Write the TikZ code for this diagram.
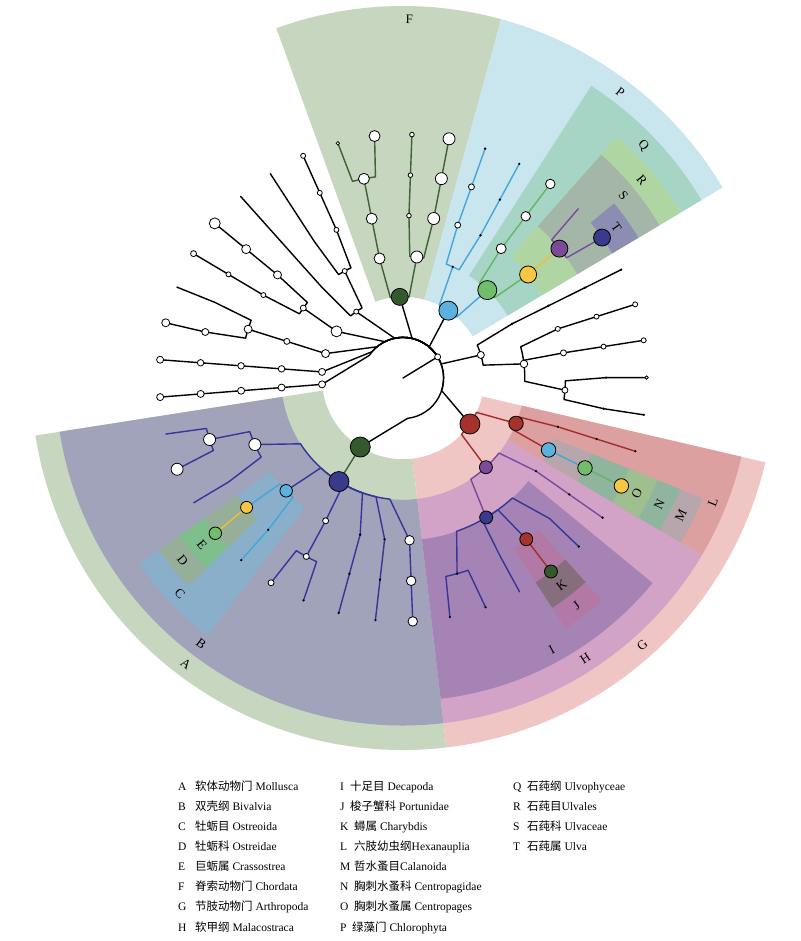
\documentclass[tikz,border=0pt]{standalone}
\usepackage{fontspec}
\setmainfont{Liberation Serif}
\newfontfamily\cjk{Noto Sans CJK SC}
\pgfdeclarelayer{wedges}
\pgfdeclarelayer{edges}
\pgfsetlayers{wedges,edges,main}
% node colours
\definecolor{cDG}{HTML}{33592C}
\definecolor{cNV}{HTML}{3A3A8C}
\definecolor{cLB}{HTML}{5BB2DF}
\definecolor{cYL}{HTML}{F6C644}
\definecolor{cGN}{HTML}{71BD6C}
\definecolor{cRD}{HTML}{A5332C}
\definecolor{cPU}{HTML}{7A4B97}
% line colours
\definecolor{lDG}{HTML}{3D6234}
\definecolor{lNV}{HTML}{35359A}
\definecolor{lLB}{HTML}{45A6DA}
\definecolor{lGN}{HTML}{66B55F}
\definecolor{lYL}{HTML}{F2BE35}
\definecolor{lRD}{HTML}{A32E28}
\definecolor{lPU}{HTML}{7B4A9D}
% wedge colours
\definecolor{wA}{HTML}{C6D6BF}
\definecolor{wB}{HTML}{A0A3BA}
\definecolor{wC}{HTML}{8AAFCB}
\definecolor{wD}{HTML}{97AE99}
\definecolor{wE}{HTML}{7FBE8D}
\definecolor{wF}{HTML}{C6D6BF}
\definecolor{wG}{HTML}{F0C6C4}
\definecolor{wH}{HTML}{D3A2C7}
\definecolor{wI}{HTML}{A584B5}
\definecolor{wJ}{HTML}{B279A6}
\definecolor{wK}{HTML}{876E7D}
\definecolor{wL}{HTML}{DBA09F}
\definecolor{wM}{HTML}{B7A6AB}
\definecolor{wN}{HTML}{90B59F}
\definecolor{wO}{HTML}{A0BF8E}
\definecolor{wP}{HTML}{C9E5EE}
\definecolor{wQ}{HTML}{A6D5C5}
\definecolor{wR}{HTML}{AED5A2}
\definecolor{wS}{HTML}{A4B6A8}
\definecolor{wT}{HTML}{8B8EB2}
\tikzset{
  tnd/.style={circle, draw=black, line width=0.8pt, inner sep=0pt, minimum size=#1},
  wn/.style={tnd=#1, fill=white},
  td/.style={circle, fill=black, inner sep=0pt, minimum size=2.6pt},
  edge/.style={line width=1.4pt, line cap=round, line join=round},
  lab/.style={font=\fontsize{13}{13}\selectfont, inner sep=0pt},
  leg/.style={font=\fontsize{11.5}{13}\selectfont, inner sep=0pt, anchor=base west},
}
\newcommand{\tnode}[4]{\node[#1] (#2) at (#3:#4pt) {};}
\newcommand{\tcoord}[3]{\coordinate (#1) at (#2:#3pt);}
\newcommand{\tbr}[6]{\pgfmathsetmacro{\tbang}{#3+0.75*((#5)-(#3))}\draw[edge,#1] (#2.center) arc[start angle=#3, end angle=\tbang, radius=#4pt] -- (#6.center);}
\newcommand{\tln}[3]{\draw[edge,#1] (#2.center) -- (#3.center);}
\newcommand{\twedge}[5]{\fill[#1] (#2:#4pt) arc[start angle=#2, end angle=#3, radius=#4pt] -- (#3:#5pt) arc[start angle=#3, end angle=#2, radius=#5pt] -- cycle;}
\newcommand{\tlab}[5]{\node[lab, rotate=#4] (#1) at (#2:#3pt) {#5};}
\newcommand{\tleg}[6]{\node[leg] (g#1) at (#2,#3) {#4}; \node[leg] (g#1n) at (#5,#3) {#6};}
\begin{document}
\begin{tikzpicture}[x=1pt,y=1pt]
\useasboundingbox (-403,-563) rectangle (397,378);
\begin{pgfonlayer}{wedges}
\fill[white] (-403,-563) rectangle (397,378);
\twedge{wA}{188.9}{276.7}{81.2}{372}
\twedge{wF}{74.7}{109.9}{81.2}{372}
\twedge{wG}{276.7}{346.9}{81.2}{372}
\twedge{wP}{30.8}{74.7}{81.2}{372}
\twedge{wB}{188.9}{276.7}{121.8}{347.5}
\twedge{wH}{276.7}{329.35}{121.8}{347.5}
\twedge{wL}{329.35}{346.9}{121.8}{347.5}
\twedge{wQ}{30.8}{57.2}{121.8}{347.5}
\twedge{wC}{215.2}{232.8}{162.4}{323}
\twedge{wI}{276.7}{320.6}{162.4}{323}
\twedge{wM}{329.35}{338.1}{162.4}{323}
\twedge{wR}{30.8}{48.4}{162.4}{323}
\twedge{wD}{215.2}{224.0}{203}{298.5}
\twedge{wJ}{303.0}{311.8}{203}{298.5}
\twedge{wN}{329.35}{338.1}{203}{298.5}
\twedge{wS}{30.8}{48.4}{203}{298.5}
\twedge{wE}{215.2}{224.0}{243.6}{274}
\twedge{wK}{303.0}{311.8}{243.6}{274}
\twedge{wO}{329.35}{338.1}{243.6}{274}
\twedge{wT}{30.8}{39.6}{243.6}{274}
\end{pgfonlayer}
% ---------- nodes ----------
\coordinate (root) at (0,0);
\tnode{wn=6pt}{k0}{31.4}{40.6}
% phyla
\tnode{tnd=20pt,fill=cDG}{A}{238.25}{81.2}
\tnode{tnd=20pt,fill=cRD}{G}{325.5}{81.2}
\tnode{wn=7pt}{pR1}{16.5}{81.2}
\tnode{tnd=19pt,fill=cLB}{P}{56.05}{81.2}
\tnode{tnd=17pt,fill=cDG}{F}{92.3}{81.2}
\tnode{wn=5pt}{pL1}{125.2}{81.2}
\tnode{wn=11pt}{pL2}{144.95}{81.2}
\tnode{wn=8pt}{pL3}{162.5}{81.2}
\tnode{wn=7pt}{pL4}{175.7}{81.2}
\tnode{wn=7pt}{pL5}{184.5}{81.2}
% left black clades
\tnode{wn=5pt}{cL1}{118.6}{121.8}
\tcoord{hL1c}{131.8}{121.8}
\tnode{wn=5pt}{oL1}{114.2}{162.4}
\tcoord{hL1o}{123.0}{162.4}
\tnode{wn=5pt}{fL1}{114.2}{203}
\tnode{wn=5pt}{lL1}{114.2}{243.6}
\tcoord{eL1}{123.0}{243.6}
\tcoord{eL2}{131.8}{243.6}
\tnode{wn=6pt}{cL2}{144.95}{121.8}
\tnode{wn=8pt}{oL2a}{140.6}{162.4}
\tnode{wn=9pt}{fL2a}{140.6}{203}
\tnode{wn=11pt}{lL2a}{140.6}{243.6}
\tnode{wn=5pt}{oL2b}{149.3}{162.4}
\tnode{wn=5pt}{fL2b}{149.3}{203}
\tnode{wn=6pt}{lL2b}{149.3}{243.6}
\tnode{wn=6pt}{cL3}{162.5}{121.8}
\tnode{wn=8pt}{oL3}{162.5}{162.4}
\tcoord{hL3f}{158.1}{203}
\tcoord{eL3}{158.1}{243.6}
\tnode{wn=7pt}{fL3}{166.9}{203}
\tnode{wn=8pt}{lL3}{166.9}{243.6}
\tnode{wn=6.5pt}{cL4}{175.7}{121.8}
\tnode{wn=6.5pt}{oL4}{175.7}{162.4}
\tnode{wn=6.5pt}{fL4}{175.7}{203}
\tnode{wn=7pt}{lL4}{175.7}{243.6}
\tnode{wn=7pt}{cL5}{184.5}{121.8}
\tnode{wn=7pt}{oL5}{184.5}{162.4}
\tnode{wn=7pt}{fL5}{184.5}{203}
\tnode{wn=7pt}{lL5}{184.5}{243.6}
% F
\tnode{wn=11pt}{cF1}{101.1}{121.8}
\tnode{wn=11pt}{oF1}{101.1}{162.4}
\tnode{wn=11pt}{fF1}{101.1}{203}
\tnode{wn=3.5pt}{lF1}{105.5}{243.6}
\tnode{wn=11pt}{lF2}{96.7}{243.6}
\tnode{wn=12pt}{cF2}{83.5}{121.8}
\tnode{wn=4.6pt}{oF2a}{87.9}{162.4}
\tnode{wn=4.6pt}{fF2a}{87.9}{203}
\tnode{wn=4.6pt}{lF3}{87.9}{243.6}
\tnode{wn=12pt}{oF2b}{79.1}{162.4}
\tnode{wn=12pt}{fF2b}{79.1}{203}
\tnode{wn=12pt}{lF4}{79.1}{243.6}
% P
\tnode{td}{cP1}{65.9}{121.8}
\tnode{tnd=19pt,fill=cGN}{Q}{46.2}{121.8}
\tnode{wn=6pt}{oP1a}{70.3}{162.4}
\tnode{wn=6pt}{fP1a}{70.3}{203}
\tnode{td}{lP1a}{70.3}{243.6}
\tnode{td}{oP1b}{61.5}{162.4}
\tnode{td}{fP1b}{61.5}{203}
\tnode{td}{lP1b}{61.5}{243.6}
\tnode{wn=10pt}{oP2}{52.8}{162.4}
\tnode{wn=9.5pt}{fP2}{52.8}{203}
\tnode{wn=9.5pt}{lP2}{52.8}{243.6}
\tnode{tnd=17pt,fill=cYL}{R}{39.6}{162.4}
\tnode{tnd=17pt,fill=cPU}{S}{39.6}{203}
\tcoord{eP3}{44.0}{243.6}
\tnode{tnd=17pt,fill=cNV}{T}{35.2}{243.6}
% right black
\tnode{td}{cR1}{26.4}{121.8}
\tnode{td}{oR1}{26.4}{162.4}
\tnode{td}{fR1}{26.4}{203}
\tnode{td}{lR1}{26.4}{243.6}
\tnode{wn=7.5pt}{cR2}{6.65}{121.8}
\tnode{wn=5pt}{oR2a}{17.6}{162.4}
\tnode{wn=5pt}{fR2a}{17.6}{203}
\tnode{wn=5pt}{lR2a}{17.6}{243.6}
\tnode{wn=6pt}{oR2b}{8.9}{162.4}
\tnode{wn=5pt}{fR2b}{8.9}{203}
\tnode{wn=5pt}{lR2b}{8.9}{243.6}
\tnode{wn=6pt}{oR3}{-4.3}{162.4}
\tnode{td}{fR3a}{0.1}{203}
\tnode{wn=3.5pt}{lR3a}{0.1}{243.6}
\tnode{td}{fR3b}{-8.7}{203}
\tnode{td}{lR3b}{-8.7}{243.6}
% A
\tnode{tnd=20pt,fill=cNV}{B}{238.25}{121.8}
\tnode{wn=12pt}{oA1}{204.2}{162.4}
\tnode{wn=12pt}{fA1}{197.65}{203}
\tcoord{eA1}{193.3}{243.6}
\tnode{wn=12pt}{lA2}{202.0}{243.6}
\tcoord{hA1}{210.8}{203}
\tcoord{eA3}{210.8}{243.6}
\tnode{tnd=12.5pt,fill=cLB}{C}{224.0}{162.4}
\tnode{tnd=12pt,fill=cYL}{D}{219.6}{203}
\tnode{tnd=12.5pt,fill=cGN}{E}{219.6}{243.6}
\tnode{td}{fC2}{228.4}{203}
\tnode{td}{lC2}{228.4}{243.6}
\tnode{wn=6pt}{oA3}{241.55}{162.4}
\tnode{wn=6pt}{fA3}{241.55}{203}
\tnode{wn=6pt}{lA6}{237.2}{243.6}
\tnode{td}{eA7}{245.9}{243.6}
\tnode{td}{oA4}{254.7}{162.4}
\tnode{td}{fA4}{254.7}{203}
\tnode{td}{lA8}{254.7}{243.6}
\tnode{td}{oA5}{263.5}{162.4}
\tnode{td}{fA5}{263.5}{203}
\tnode{td}{lA9}{263.5}{243.6}
\tnode{wn=9.5pt}{oA6}{272.3}{162.4}
\tnode{wn=9.5pt}{fA6}{272.3}{203}
\tnode{wn=9.5pt}{lA10}{272.3}{243.6}
% G
\tnode{tnd=13pt,fill=cPU}{H}{312.9}{121.8}
\tnode{tnd=14.5pt,fill=cRD}{L}{338.1}{121.8}
\tnode{tnd=13pt,fill=cNV}{I}{300.8}{162.4}
\tnode{td}{oH2}{325.0}{162.4}
\tnode{td}{fH2}{325.0}{203}
\tnode{td}{lH2}{325.0}{243.6}
\tnode{td}{fG1}{285.45}{203}
\tnode{td}{lG1}{281.1}{243.6}
\tnode{td}{lG2}{289.8}{243.6}
\tcoord{hI2}{298.6}{203}
\tcoord{eG3}{298.6}{243.6}
\tnode{tnd=13pt,fill=cRD}{J}{307.4}{203}
\tnode{tnd=13pt,fill=cDG}{K}{307.4}{243.6}
\tcoord{hI4}{316.2}{203}
\tnode{td}{lG5}{316.2}{243.6}
\tnode{tnd=14.5pt,fill=cLB}{M}{333.7}{162.4}
\tnode{tnd=14.5pt,fill=cGN}{N}{333.7}{203}
\tnode{tnd=14.5pt,fill=cYL}{O}{333.7}{243.6}
\tnode{td}{oGL2}{342.5}{162.4}
\tnode{td}{fGL2}{342.5}{203}
\tnode{td}{lGL2}{342.5}{243.6}
% ---------- edges ----------
\begin{pgfonlayer}{edges}
\draw[edge,black] (root) -- (k0.center);
\tbr{black}{k0}{31.4}{40.6}{-121.75}{A}
\tbr{black}{k0}{31.4}{40.6}{-34.5}{G}
\tbr{black}{k0}{31.4}{40.6}{16.5}{pR1}
\tbr{black}{k0}{31.4}{40.6}{56.05}{P}
\tbr{black}{k0}{31.4}{40.6}{92.3}{F}
\tbr{black}{k0}{31.4}{40.6}{125.2}{pL1}
\tbr{black}{k0}{31.4}{40.6}{144.95}{pL2}
\tbr{black}{k0}{31.4}{40.6}{162.5}{pL3}
\tbr{black}{k0}{31.4}{40.6}{175.7}{pL4}
\tbr{black}{k0}{31.4}{40.6}{184.5}{pL5}
% left black
\tbr{black}{pL1}{125.2}{81.2}{118.6}{cL1}
\tbr{black}{pL1}{125.2}{81.2}{131.8}{hL1c}
\tbr{black}{cL1}{118.6}{121.8}{114.2}{oL1}
\tbr{black}{cL1}{118.6}{121.8}{123.0}{hL1o}
\tln{black}{oL1}{fL1}\tln{black}{fL1}{lL1}
\tln{black}{hL1o}{eL1}
\tln{black}{hL1c}{eL2}
\tln{black}{pL2}{cL2}
\tbr{black}{cL2}{144.95}{121.8}{140.6}{oL2a}
\tbr{black}{cL2}{144.95}{121.8}{149.3}{oL2b}
\tln{black}{oL2a}{fL2a}\tln{black}{fL2a}{lL2a}
\tln{black}{oL2b}{fL2b}\tln{black}{fL2b}{lL2b}
\tln{black}{pL3}{cL3}\tln{black}{cL3}{oL3}
\tbr{black}{oL3}{162.5}{162.4}{158.1}{hL3f}
\tbr{black}{oL3}{162.5}{162.4}{166.9}{fL3}
\tln{black}{hL3f}{eL3}\tln{black}{fL3}{lL3}
\tln{black}{pL4}{cL4}\tln{black}{cL4}{oL4}\tln{black}{oL4}{fL4}\tln{black}{fL4}{lL4}
\tln{black}{pL5}{cL5}\tln{black}{cL5}{oL5}\tln{black}{oL5}{fL5}\tln{black}{fL5}{lL5}
% F
\tbr{lDG}{F}{92.3}{81.2}{101.1}{cF1}
\tbr{lDG}{F}{92.3}{81.2}{83.5}{cF2}
\tln{lDG}{cF1}{oF1}\tln{lDG}{oF1}{fF1}
\tbr{lDG}{fF1}{101.1}{203}{105.5}{lF1}
\tbr{lDG}{fF1}{101.1}{203}{96.7}{lF2}
\tbr{lDG}{cF2}{83.5}{121.8}{87.9}{oF2a}
\tbr{lDG}{cF2}{83.5}{121.8}{79.1}{oF2b}
\tln{lDG}{oF2a}{fF2a}\tln{lDG}{fF2a}{lF3}
\tln{lDG}{oF2b}{fF2b}\tln{lDG}{fF2b}{lF4}
% P
\tbr{lLB}{P}{56.05}{81.2}{65.9}{cP1}
\tbr{lLB}{P}{56.05}{81.2}{46.2}{Q}
\tbr{lLB}{cP1}{65.9}{121.8}{70.3}{oP1a}
\tbr{lLB}{cP1}{65.9}{121.8}{61.5}{oP1b}
\tln{lLB}{oP1a}{fP1a}\tln{lLB}{fP1a}{lP1a}
\tln{lLB}{oP1b}{fP1b}\tln{lLB}{fP1b}{lP1b}
\tbr{lGN}{Q}{46.2}{121.8}{52.8}{oP2}
\tbr{lGN}{Q}{46.2}{121.8}{39.6}{R}
\tln{lGN}{oP2}{fP2}\tln{lGN}{fP2}{lP2}
\tln{lYL}{R}{S}
\tbr{lPU}{S}{39.6}{203}{44.0}{eP3}
\tbr{lPU}{S}{39.6}{203}{35.2}{T}
% right black
\tbr{black}{pR1}{16.5}{81.2}{26.4}{cR1}
\tbr{black}{pR1}{16.5}{81.2}{6.65}{cR2}
\tln{black}{cR1}{oR1}\tln{black}{oR1}{fR1}\tln{black}{fR1}{lR1}
\tbr{black}{cR2}{6.65}{121.8}{17.6}{oR2a}
\tbr{black}{cR2}{6.65}{121.8}{8.9}{oR2b}
\tbr{black}{cR2}{6.65}{121.8}{-4.3}{oR3}
\tln{black}{oR2a}{fR2a}\tln{black}{fR2a}{lR2a}
\tln{black}{oR2b}{fR2b}\tln{black}{fR2b}{lR2b}
\tbr{black}{oR3}{-4.3}{162.4}{0.1}{fR3a}
\tbr{black}{oR3}{-4.3}{162.4}{-8.7}{fR3b}
\tln{black}{fR3a}{lR3a}\tln{black}{fR3b}{lR3b}
% A
\tln{lDG}{A}{B}
\tbr{lNV}{B}{238.25}{121.8}{204.2}{oA1}
\tbr{lNV}{B}{238.25}{121.8}{224.0}{C}
\tbr{lNV}{B}{238.25}{121.8}{241.55}{oA3}
\tbr{lNV}{B}{238.25}{121.8}{254.7}{oA4}
\tbr{lNV}{B}{238.25}{121.8}{263.5}{oA5}
\tbr{lNV}{B}{238.25}{121.8}{272.3}{oA6}
\tbr{lNV}{oA1}{204.2}{162.4}{197.65}{fA1}
\tbr{lNV}{oA1}{204.2}{162.4}{210.8}{hA1}
\tbr{lNV}{fA1}{197.65}{203}{193.3}{eA1}
\tbr{lNV}{fA1}{197.65}{203}{202.0}{lA2}
\tln{lNV}{hA1}{eA3}
\tbr{lLB}{C}{224.0}{162.4}{219.6}{D}
\tbr{lLB}{C}{224.0}{162.4}{228.4}{fC2}
\tln{lYL}{D}{E}
\tln{lLB}{fC2}{lC2}
\tln{lNV}{oA3}{fA3}
\tbr{lNV}{fA3}{241.55}{203}{237.2}{lA6}
\tbr{lNV}{fA3}{241.55}{203}{245.9}{eA7}
\tln{lNV}{oA4}{fA4}\tln{lNV}{fA4}{lA8}
\tln{lNV}{oA5}{fA5}\tln{lNV}{fA5}{lA9}
\tln{lNV}{oA6}{fA6}\tln{lNV}{fA6}{lA10}
% G
\tbr{lRD}{G}{325.5}{81.2}{312.9}{H}
\tbr{lRD}{G}{325.5}{81.2}{338.1}{L}
\tbr{lPU}{H}{312.9}{121.8}{300.8}{I}
\tbr{lPU}{H}{312.9}{121.8}{325.0}{oH2}
\tln{lPU}{oH2}{fH2}\tln{lPU}{fH2}{lH2}
\tbr{lNV}{I}{300.8}{162.4}{285.45}{fG1}
\tbr{lNV}{I}{300.8}{162.4}{298.6}{hI2}
\tbr{lNV}{I}{300.8}{162.4}{307.4}{J}
\tbr{lNV}{I}{300.8}{162.4}{316.2}{hI4}
\tbr{lNV}{fG1}{285.45}{203}{281.1}{lG1}
\tbr{lNV}{fG1}{285.45}{203}{289.8}{lG2}
\tln{lNV}{hI2}{eG3}\tln{lNV}{hI4}{lG5}
\tln{lRD}{J}{K}
\tbr{lRD}{L}{338.1}{121.8}{333.7}{M}
\tbr{lRD}{L}{338.1}{121.8}{342.5}{oGL2}
\tln{lRD}{oGL2}{fGL2}\tln{lRD}{fGL2}{lGL2}
\tln{lLB}{M}{N}
\tln{lGN}{N}{O}
\end{pgfonlayer}
% ---------- clade labels ----------
\tlab{lbA}{232.8}{359}{322.8}{A}
\tlab{lbB}{232.8}{334}{322.8}{B}
\tlab{lbC}{224.0}{310}{314.0}{C}
\tlab{lbD}{219.6}{286}{309.6}{D}
\tlab{lbE}{219.6}{261}{309.6}{E}
\tlab{lbF}{89.0}{359}{-1.0}{F}
\tlab{lbG}{311.8}{359}{41.8}{G}
\tlab{lbH}{303.05}{334}{33.05}{H}
\tlab{lbI}{298.65}{310}{28.65}{I}
\tlab{lbJ}{307.4}{286}{37.4}{J}
\tlab{lbK}{307.4}{261}{37.4}{K}
\tlab{lbL}{338.1}{334}{68.1}{L}
\tlab{lbM}{333.7}{310}{63.7}{M}
\tlab{lbN}{333.7}{286}{63.7}{N}
\tlab{lbO}{333.7}{261}{63.7}{O}
\tlab{lbP}{52.75}{359}{-37.25}{P}
\tlab{lbQ}{44.0}{334}{-46}{Q}
\tlab{lbR}{39.6}{310}{-50.4}{R}
\tlab{lbS}{39.6}{286}{-50.4}{S}
\tlab{lbT}{35.2}{261}{-54.8}{T}
% ---------- legend ----------
\tleg{A}{-225}{-412.5}{A}{-208}{{\cjk 软体动物门} Mollusca}
\tleg{B}{-225}{-432.6}{B}{-208}{{\cjk 双壳纲} Bivalvia}
\tleg{C}{-225}{-452.6}{C}{-208}{{\cjk 牡蛎目} Ostreoida}
\tleg{D}{-225}{-472.7}{D}{-208}{{\cjk 牡蛎科} Ostreidae}
\tleg{E}{-225}{-492.8}{E}{-208}{{\cjk 巨蛎属} Crassostrea}
\tleg{F}{-225}{-512.9}{F}{-208}{{\cjk 脊索动物门} Chordata}
\tleg{G}{-225}{-532.9}{G}{-208}{{\cjk 节肢动物门} Arthropoda}
\tleg{H}{-225}{-553.0}{H}{-208}{{\cjk 软甲纲} Malacostraca}
\tleg{I}{-63}{-412.5}{I}{-53}{{\cjk 十足目} Decapoda}
\tleg{J}{-63}{-432.6}{J}{-53}{{\cjk 梭子蟹科} Portunidae}
\tleg{K}{-63}{-452.6}{K}{-49}{{\cjk 蟳属} Charybdis}
\tleg{L}{-63}{-472.7}{L}{-49}{{\cjk 六肢幼虫纲}Hexanauplia}
\tleg{M}{-63}{-492.8}{M}{-49}{{\cjk 哲水蚤目}Calanoida}
\tleg{N}{-63}{-512.9}{N}{-49}{{\cjk 胸刺水蚤科} Centropagidae}
\tleg{O}{-63}{-532.9}{O}{-49}{{\cjk 胸刺水蚤属} Centropages}
\tleg{P}{-63}{-553.0}{P}{-51}{{\cjk 绿藻门} Chlorophyta}
\tleg{Q}{110}{-412.5}{Q}{124}{{\cjk 石莼纲} Ulvophyceae}
\tleg{R}{110}{-432.6}{R}{124}{{\cjk 石莼目}Ulvales}
\tleg{S}{110}{-452.6}{S}{124}{{\cjk 石莼科} Ulvaceae}
\tleg{T}{110}{-472.7}{T}{124}{{\cjk 石莼属} Ulva}
\end{tikzpicture}
\end{document}
